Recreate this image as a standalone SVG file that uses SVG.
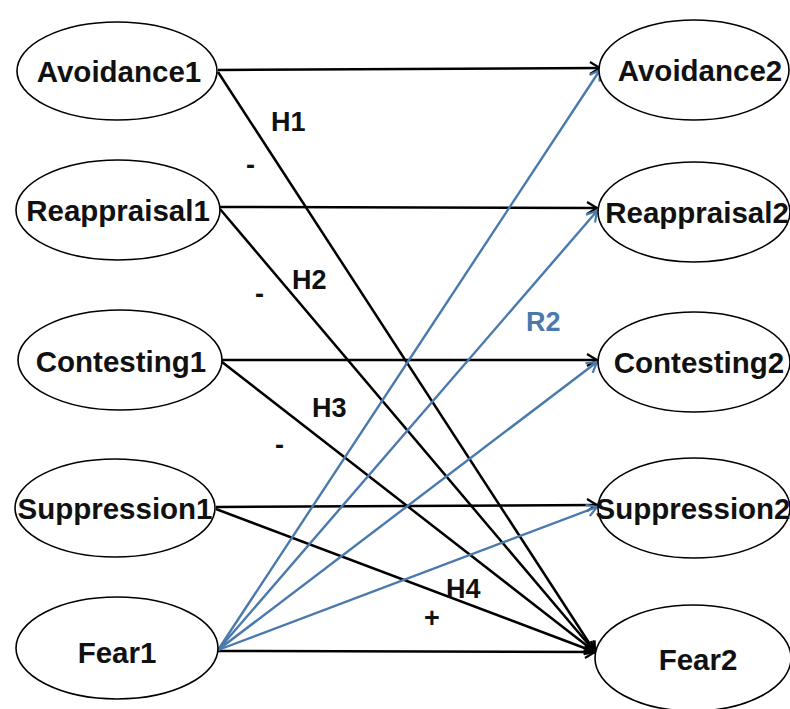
<svg xmlns="http://www.w3.org/2000/svg" width="790" height="709" viewBox="0 0 790 709">
<style>
.node ellipse{fill:#fff;stroke:#000;stroke-width:1.6}
.node text{font-family:"Liberation Sans",Arial,sans-serif;font-weight:bold;font-size:29.5px;fill:#111;text-anchor:middle}
.blk{stroke:#000;stroke-width:2.5;fill:none}
.blu{stroke:#4a79ad;stroke-width:2.4;fill:none}
.lbl{font-family:"Liberation Sans",Arial,sans-serif;font-weight:bold;font-size:27px;fill:#111}
</style>
<defs>
<marker id="ab" markerWidth="14" markerHeight="14" refX="12" refY="7" orient="auto" markerUnits="userSpaceOnUse"><path d="M2,1 L12,7 L2,13" fill="none" stroke="#000" stroke-width="2.2"/></marker>
<marker id="au" markerWidth="14" markerHeight="14" refX="12" refY="7" orient="auto" markerUnits="userSpaceOnUse"><path d="M2,1 L12,7 L2,13" fill="none" stroke="#4a79ad" stroke-width="2.2"/></marker>
</defs>
<rect width="790" height="709" fill="#fff"/>
<g id="connectors">
<line class="blk" x1="218" y1="70" x2="600" y2="68" marker-end="url(#ab)"/>
<line class="blk" x1="220" y1="207" x2="597" y2="208" marker-end="url(#ab)"/>
<line class="blk" x1="222" y1="360" x2="597" y2="360" marker-end="url(#ab)"/>
<line class="blk" x1="216" y1="507" x2="597" y2="505" marker-end="url(#ab)"/>
<line class="blk" x1="218" y1="651" x2="595" y2="652" marker-end="url(#ab)"/>
<line class="blk" x1="218" y1="72" x2="595" y2="652" marker-end="url(#ab)"/>
<line class="blk" x1="220" y1="209" x2="595" y2="652" marker-end="url(#ab)"/>
<line class="blk" x1="222" y1="362" x2="595" y2="652" marker-end="url(#ab)"/>
<line class="blk" x1="216" y1="509" x2="595" y2="652" marker-end="url(#ab)"/>
<line class="blu" x1="218" y1="650" x2="600" y2="70" marker-end="url(#au)"/>
<line class="blu" x1="218" y1="650" x2="597" y2="211" marker-end="url(#au)"/>
<line class="blu" x1="218" y1="650" x2="597" y2="362" marker-end="url(#au)"/>
<line class="blu" x1="218" y1="650" x2="597" y2="507" marker-end="url(#au)"/>
</g>
<g id="labels">
<text class="lbl" x="271" y="131">H1</text>
<text class="lbl" x="246" y="174">-</text>
<text class="lbl" x="292" y="289">H2</text>
<text class="lbl" x="255" y="303">-</text>
<text class="lbl" x="526" y="331" style="fill:#4a79ad">R2</text>
<text class="lbl" x="312" y="417">H3</text>
<text class="lbl" x="275" y="454">-</text>
<text class="lbl" x="446" y="598">H4</text>
<text class="lbl" x="424" y="627">+</text>
</g>
<g id="Avoidance1" class="node"><ellipse cx="117" cy="71" rx="100" ry="49"/><text x="119" y="82">Avoidance1</text></g>
<g id="Reappraisal1" class="node"><ellipse cx="118" cy="210" rx="102" ry="50"/><text x="118" y="221">Reappraisal1</text></g>
<g id="Contesting1" class="node"><ellipse cx="120" cy="360" rx="102" ry="50"/><text x="121" y="372">Contesting1</text></g>
<g id="Suppression1" class="node"><ellipse cx="115" cy="508" rx="100" ry="49"/><text x="115" y="519">Suppression1</text></g>
<g id="Fear1" class="node"><ellipse cx="117" cy="648" rx="101" ry="51"/><text x="117" y="663">Fear1</text></g>
<g id="Avoidance2" class="node"><ellipse cx="694" cy="70" rx="95" ry="50"/><text x="700" y="81">Avoidance2</text></g>
<g id="Reappraisal2" class="node"><ellipse cx="694" cy="212" rx="96" ry="50"/><text x="697" y="223">Reappraisal2</text></g>
<g id="Contesting2" class="node"><ellipse cx="694" cy="362" rx="96" ry="50"/><text x="699" y="373">Contesting2</text></g>
<g id="Suppression2" class="node"><ellipse cx="694" cy="508" rx="96" ry="50"/><text x="693" y="519">Suppression2</text></g>
<g id="Fear2" class="node"><ellipse cx="693" cy="658" rx="98" ry="53"/><text x="698" y="670">Fear2</text></g>
</svg>
